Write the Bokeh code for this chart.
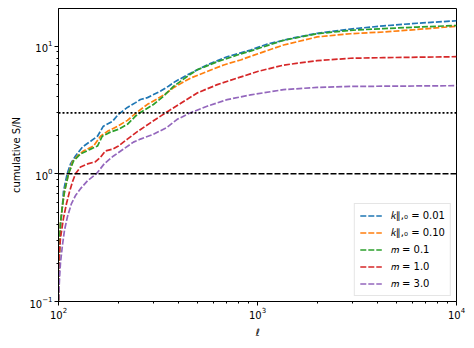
from bokeh.plotting import figure
from bokeh.models import Range1d, FixedTicker, Span, Legend, LegendItem
from bokeh.embed import file_html
from bokeh.resources import INLINE

# ---- data ----
ell_k001 = [100, 101.2, 102.3, 104.7, 105.9, 108.4, 110.6, 114.9, 121.7, 132, 145, 157, 168, 187, 200,
            222, 244, 258, 280, 326, 357, 387, 461, 558, 704, 923, 1122, 1352, 1517, 1995, 2933, 4295, 6339, 10000]
sn_k001 = [0.102, 0.262, 0.395, 0.565, 0.725, 0.867, 1.00, 1.195, 1.38, 1.62, 1.80, 1.97, 2.36, 2.58, 2.92,
           3.31, 3.61, 3.82, 3.95, 4.45, 4.85, 5.29, 6.14, 7.12, 8.26, 9.31, 10.4, 11.1, 11.6, 12.6, 13.6, 14.4, 15.1, 15.8]

ell_k010 = [100, 101.2, 102.3, 104.7, 107.2, 112.3, 117.6, 124.6, 133.5, 149.9, 162.6, 176.2, 197.9, 222, 249,
            280, 313, 350, 380, 461, 558, 676, 822, 960, 1352, 1995, 2933, 4295, 6339, 10000]
sn_k010 = [0.102, 0.287, 0.41, 0.565, 0.725, 1.0, 1.24, 1.38, 1.51, 1.65, 1.97, 2.15, 2.36, 2.62, 3.05,
           3.5, 3.85, 4.3, 4.75, 5.62, 6.32, 7.12, 7.79, 8.5, 10.2, 11.8, 12.5, 12.9, 13.5, 14.3]

ell_m01 = [100, 101.2, 102.3, 104.7, 107.2, 112.3, 119, 129, 145, 157, 166, 182, 200, 222, 245,
           258, 300, 337, 378, 443, 498, 628, 792, 954, 1352, 1995, 2933, 4295, 6339, 10000]
sn_m01 = [0.102, 0.287, 0.41, 0.565, 0.725, 1.0, 1.26, 1.43, 1.56, 1.65, 1.97, 2.12, 2.23, 2.44, 2.85,
          3.02, 3.49, 4.05, 4.83, 5.78, 6.52, 7.55, 8.51, 9.31, 11.1, 12.5, 13.3, 13.7, 14.1, 14.5]

ell_m10 = [100, 100.6, 102.3, 105.9, 109.7, 113.6, 117.6, 121.7, 129, 139.9, 153, 162.6, 172, 187, 200,
           222, 250, 300, 351, 410, 498, 628, 792, 1010, 1352, 1995, 2933, 4295, 10000]
sn_m10 = [0.102, 0.219, 0.313, 0.448, 0.585, 0.725, 0.867, 1.0, 1.13, 1.195, 1.24, 1.35, 1.51, 1.56, 1.65,
          1.87, 2.15, 2.6, 3.05, 3.55, 4.3, 4.99, 5.62, 6.35, 7.1, 7.69, 8.03, 8.12, 8.26]

ell_m30 = [100, 101.2, 102.3, 104.7, 107.2, 111, 116.2, 121.7, 129, 139.9, 155, 170, 189, 212, 238,
           258, 300, 351, 395, 461, 558, 704, 923, 1352, 1995, 2933, 10000]
sn_m30 = [0.102, 0.153, 0.2, 0.277, 0.362, 0.464, 0.585, 0.675, 0.765, 0.883, 1.0, 1.2, 1.38, 1.56, 1.77,
          1.87, 2.04, 2.31, 2.67, 3.01, 3.38, 3.81, 4.15, 4.56, 4.75, 4.83, 4.90]

labels = ["\U0001D458\u2225,\u2080 = 0.01", "\U0001D458\u2225,\u2080 = 0.10",
          "\U0001D45A = 0.1", "\U0001D45A = 1.0", "\U0001D45A = 3.0"]
colors = ["#1f77b4", "#ff7f0e", "#2ca02c", "#d62728", "#9467bd"]
series = [(ell_k001, sn_k001), (ell_k010, sn_k010), (ell_m01, sn_m01), (ell_m10, sn_m10), (ell_m30, sn_m30)]

x_major = [100, 1000, 10000]
x_minor = [200, 300, 400, 500, 600, 700, 800, 900, 2000, 3000, 4000, 5000, 6000, 7000, 8000, 9000]
y_major = [0.1, 1, 10]
y_minor = [0.2, 0.3, 0.4, 0.5, 0.6, 0.7, 0.8, 0.9, 2, 3, 4, 5, 6, 7, 8, 9]
threshold_dashed = 1.0
threshold_dotted = 3.0

FONT = "DejaVu Sans"

p = figure(width=466, height=340, x_axis_type="log", y_axis_type="log",
           x_range=Range1d(100, 10000), y_range=Range1d(0.1, 19.7),
           output_backend="svg", toolbar_location=None,
           min_border_left=58, min_border_right=10, min_border_top=8, min_border_bottom=36)
p.background_fill_color = "white"
p.border_fill_color = "white"
p.outline_line_color = "black"
p.outline_line_width = 1
p.xgrid.visible = False
p.ygrid.visible = False

p.xaxis.ticker = FixedTicker(ticks=x_major, minor_ticks=x_minor)
p.yaxis.ticker = FixedTicker(ticks=y_major, minor_ticks=y_minor)
for ax in (p.xaxis, p.yaxis):
    ax.axis_line_color = "black"
    ax.major_tick_line_color = "black"
    ax.minor_tick_line_color = "black"
    ax.major_tick_in = 0
    ax.major_tick_out = 4
    ax.minor_tick_in = 0
    ax.minor_tick_out = 2
    ax.major_label_text_font = FONT
    ax.major_label_text_font_size = "10px"
    ax.major_label_text_color = "black"
    ax.axis_label_text_font = FONT
    ax.axis_label_text_font_size = "10px"
    ax.axis_label_text_color = "black"
    ax.axis_label_text_font_style = "normal"
    ax.major_label_standoff = 2
p.xaxis.major_label_standoff = 1
p.xaxis.axis_label = "\u2113"
p.xaxis.axis_label_text_font_style = "italic"
p.xaxis.axis_label_standoff = 5
p.yaxis.axis_label = "cumulative S/N"
p.yaxis.axis_label_standoff = 4

p.add_layout(Span(location=threshold_dashed, dimension="width", line_color="black",
                  line_width=1.6, line_dash="6 2"))
p.add_layout(Span(location=threshold_dotted, dimension="width", line_color="black",
                  line_width=1.6, line_dash="2 2"))

items = []
for (xs, ys), c, lab in zip(series, colors, labels):
    r = p.line(xs, ys, line_color=c, line_width=1.7, line_dash="6 2")
    items.append(LegendItem(label=lab, renderers=[r]))

legend = Legend(items=items, location="bottom_right")
legend.label_text_font = FONT
legend.label_text_font_size = "10px"
legend.label_text_color = "black"
legend.border_line_color = "#cccccc"
legend.border_line_width = 1
legend.background_fill_alpha = 0.8
legend.margin = 5
legend.padding = 5
legend.spacing = 4
legend.glyph_width = 22
legend.glyph_height = 13
legend.label_height = 13
legend.label_standoff = 9
p.add_layout(legend)

open("out.html", "w").write(file_html(p, INLINE))
